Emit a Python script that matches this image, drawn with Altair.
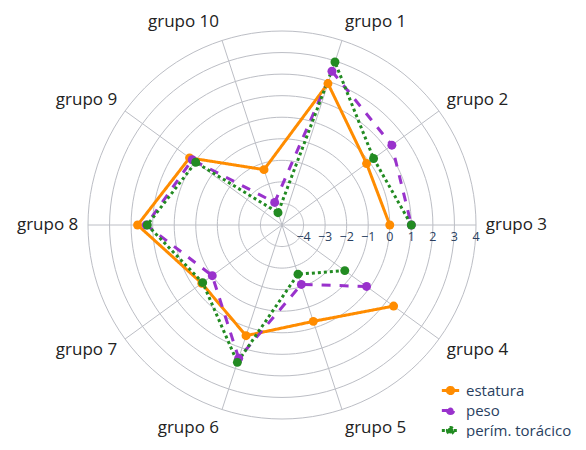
import altair as alt
import pandas as pd

# ---- data ----
grupos = [f"grupo {i}" for i in range(1, 11)]
estatura = [1.9, -0.15, 0.0, 1.4, -0.3, 0.4, -0.4, 1.7, 0.3, -2.3]
peso = [2.5, 1.3, 1.0, -0.15, -2.1, 1.5, -1.0, 1.3, 0.15, -3.9]
perimetro = [2.95, 0.25, 1.0, -1.4, -2.6, 1.7, -0.45, 1.25, -0.05, -4.4]
series = ["estatura", "peso", "perím. torácico"]
colores = ["#FF8C00", "#9932CC", "#228B22"]
trazos = [[1, 0], [9, 9], [3, 3]]
orden_trazo = [4, 5, 6, 7, 8, 9, 10, 1, 2, 3]   # order in which the polyline visits the groups
radial_ticks = [-4, -3, -2, -1, 0, 1, 2, 3, 4]
radial_labels = ["\u22124", "\u22123", "\u22122", "\u22121", "0", "1", "2", "3", "4"]
R_MIN, R_MAX = -5, 4

FONT = "Open Sans"
GRID = "#bcbec5"
TXT = "#2a3f5f"
LAB = "#222222"

rows = []
for s, vals in zip(series, [estatura, peso, perimetro]):
    for i, (g, v) in enumerate(zip(grupos, vals)):
        rows.append({"serie": s, "grupo": g, "idx": i, "valor": v,
                     "orden": orden_trazo.index(i + 1)})
df = pd.DataFrame(rows)

cats = pd.DataFrame({"grupo": grupos, "idx": list(range(len(grupos)))})

ring_rows = []
for t in radial_ticks:
    for a in range(0, 361, 3):
        ring_rows.append({"nivel": t, "ang": a})
rings = pd.DataFrame(ring_rows)

ticks = pd.DataFrame({"nivel": radial_ticks, "lab": radial_labels})

span = R_MAX - R_MIN
xs = alt.Scale(domain=[-span, span], nice=False, zero=False)
ys = alt.Scale(domain=[-span, span], nice=False, zero=False)

ang_expr = "(72 - 36*datum.idx) * PI / 180"

# grid circles
grid_c = alt.Chart(rings).transform_calculate(
    r=f"datum.nivel - ({R_MIN})",
    x="datum.r * cos(datum.ang * PI / 180)",
    y="datum.r * sin(datum.ang * PI / 180)",
).mark_line(color=GRID, strokeWidth=1).encode(
    x=alt.X("x:Q", scale=xs, axis=None),
    y=alt.Y("y:Q", scale=ys, axis=None),
    detail="nivel:N",
    order="ang:Q",
)

# spokes
spokes = alt.Chart(cats).transform_calculate(
    a=ang_expr,
    x0="0",
    y0="0",
    x1=f"{span} * cos(datum.a)",
    y1=f"{span} * sin(datum.a)",
).mark_rule(color=GRID, strokeWidth=1).encode(
    x=alt.X("x0:Q", scale=xs, axis=None),
    y=alt.Y("y0:Q", scale=ys, axis=None),
    x2="x1:Q",
    y2="y1:Q",
)

# angular labels
lab_base = alt.Chart(cats).transform_calculate(
    a=ang_expr,
    c="cos(datum.a)",
    lx=f"{span} * cos(datum.a) + 0.45 * cos(datum.a)",
    ly=f"({span} + 0.9) * sin(datum.a)",
)
lab_enc = dict(
    x=alt.X("lx:Q", scale=xs, axis=None),
    y=alt.Y("ly:Q", scale=ys, axis=None),
    text="grupo:N",
)
lab_right = lab_base.transform_filter("datum.c > 0.1").mark_text(
    align="left", baseline="middle", font=FONT, fontSize=17, color=LAB
).encode(**lab_enc)
lab_left = lab_base.transform_filter("datum.c < -0.1").mark_text(
    align="right", baseline="middle", font=FONT, fontSize=17, color=LAB
).encode(**lab_enc)
lab_mid = lab_base.transform_filter("abs(datum.c) <= 0.1").mark_text(
    align="center", baseline="middle", font=FONT, fontSize=17, color=LAB
).encode(**lab_enc)

# radial tick labels
rlab = alt.Chart(ticks).transform_calculate(
    x=f"datum.nivel - ({R_MIN})",
    y="0",
).mark_text(align="center", baseline="middle", dy=12, font=FONT, fontSize=12.5, color=TXT).encode(
    x=alt.X("x:Q", scale=xs, axis=None),
    y=alt.Y("y:Q", scale=ys, axis=None),
    text="lab:N",
)

legend_path = "M-1,0L1,0M-0.36,0A0.36,0.36,0,1,0,0.36,0A0.36,0.36,0,1,0,-0.36,0Z"
leg = alt.Legend(
    title=None, orient="none", legendX=352, legendY=349,
    symbolType=legend_path, symbolSize=300, symbolStrokeWidth=3,
    labelFont=FONT, labelFontSize=15, labelColor=TXT, rowPadding=0,
    labelOffset=5, labelLimit=300,
)

base = alt.Chart(df).transform_calculate(
    a=ang_expr,
    r=f"datum.valor - ({R_MIN})",
    x="datum.r * cos(datum.a)",
    y="datum.r * sin(datum.a)",
)

color = alt.Color("serie:N", scale=alt.Scale(domain=series, range=colores), legend=leg)
dash = alt.StrokeDash("serie:N", scale=alt.Scale(domain=series, range=trazos), legend=leg)

lines = base.mark_line(strokeWidth=3).encode(
    x=alt.X("x:Q", scale=xs, axis=None),
    y=alt.Y("y:Q", scale=ys, axis=None),
    color=color,
    strokeDash=dash,
    order="orden:Q",
)
points = base.mark_point(filled=True, size=80, opacity=1).encode(
    x=alt.X("x:Q", scale=xs, axis=None),
    y=alt.Y("y:Q", scale=ys, axis=None),
    color=color,
)

chart = alt.layer(
    grid_c, spokes, rlab, lab_right, lab_left, lab_mid, lines, points
).properties(
    width=388, height=388,
    autosize=alt.AutoSizeParams(type="none"),
    padding={"left": 80, "top": 23, "right": 102, "bottom": 19},
    background="white",
).configure_view(stroke=None)

chart.save("out.html", embed_options={"renderer": "svg", "actions": False})
